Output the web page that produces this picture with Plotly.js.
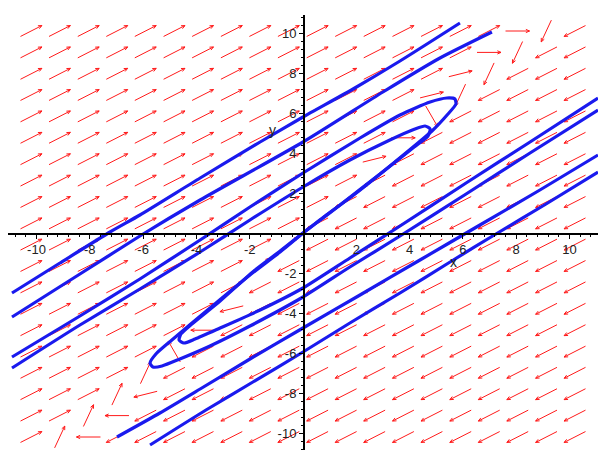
<!DOCTYPE html>
<html><head><meta charset="utf-8">
<script src="https://cdn.plot.ly/plotly-3.0.1.min.js"></script>
<style>html,body{margin:0;padding:0;background:#fff}</style>
</head><body>
<div id="chart" style="width:598px;height:450px"></div>
<script>
// ---- direction field ----
const gridX = [-10.2,-9.13,-8.05,-6.98,-5.91,-4.83,-3.76,-2.68,-1.61,-0.54,0.54,1.61,2.68,3.76,4.83,5.91,6.98,8.05,9.13,10.2];
const gridY = [10.1,9.03,7.96,6.9,5.83,4.76,3.69,2.62,1.55,0.48,-0.58,-1.65,-2.72,-3.79,-4.86,-5.93,-6.99,-8.06,-9.13,-10.2];
// one letter per arrow, top row first
const fieldRows = [
  "rrrrrrrrrrrrrrrrrhsl",
  "rrrrrrrrrrrrrrrrhsll",
  "rrrrrrrrrrrrrrraslll",
  "rrrrrrrrrrrrrrasllll",
  "rrrrrrrrrrrrrrdlllll",
  "rrrrrrrrrrrrrhllllll",
  "rrrrrrrrrrrralllllll",
  "rrrrrrrrrrrrllllllll",
  "rrrrrrrrrrrlllllllll",
  "rrrrrrrrrrllllllllll",
  "rrrrrrrrrTllllllllll",
  "rrrrrrrrTlllllllllll",
  "rrrrrrrrllllllllllll",
  "rrrrrrrAllllllllllll",
  "rrrrrrHlllllllllllll",
  "rrrrrDllllllllllllll",
  "rrrrSlllllllllllllll",
  "rrrSAlllllllllllllll",
  "rrSHllllllllllllllll",
  "rSHlllllllllllllllll"
];
// arrow direction (degrees, on screen) for each letter
const arrowDirs = {r:27, l:207, a:14, A:194, h:0, H:180, d:-60, D:120, s:-115, S:65, t:-140, T:40};

// ---- solution curves ----
const pX  = [-10.92,-9.12,-7.24,-6.12,-3.86,-1.61,0,1.88,3.64,5.89];
const pY  = [-3.0,-1.5,0.05,0.9,2.75,4.55,5.8,7.2,8.6,10.5];
const qX  = [-10.92,-8.37,-6.12,-3.86,0,3.0,5.14,7.09];
const qY  = [-4.2,-2.05,-0.15,1.65,4.55,7.05,8.75,10.05];
const h1X = [-10.92,-8.37,-6.12,-3.86,-1.99,0,2.14,3.64,4.77,5.40,5.70,5.74,5.44,4.84,3.45,1.95,0.83,0];
const h1Y = [-6.2,-4.15,-2.3,-0.35,1.3,3.0,4.75,5.9,6.55,6.75,6.7,6.45,5.95,5.1,3.55,1.95,0.85,0];
const h2X = [-10.92,-8.37,-6.12,-3.86,-1.99,0,1.76,3.26,4.20,4.58,4.77,4.69,4.17,2.89,1.39,0.45,0];
const h2Y = [-6.75,-4.6,-2.8,-0.95,0.65,2.3,3.65,4.65,5.2,5.35,5.2,4.85,4.3,2.95,1.4,0.45,0];
const h3X = [11.07,8.52,6.12,3.64,1.76,0,-1.99,-3.49,-4.62,-5.29,-5.63,-5.74,-5.52,-4.92,-3.49,-1.99,-0.86,0];
const h3Y = [6.15,4.0,1.95,-0.15,-1.7,-3.2,-4.65,-5.65,-6.3,-6.65,-6.7,-6.5,-6.05,-5.35,-3.75,-2.1,-0.95,0];
const h4X = [11.07,8.52,6.12,3.64,1.76,0,-1.61,-3.11,-4.05,-4.47,-4.65,-4.58,-4.17,-3.11,-1.80,-0.86,0];
const h4Y = [6.75,4.55,2.5,0.35,-1.25,-2.75,-3.85,-4.75,-5.3,-5.5,-5.35,-5.05,-4.55,-3.4,-1.85,-0.9,0];
const p2X = [11.07,9.12,7.24,5.52,3.64,1.76,0,-1.88,-3.64,-5.74];
const p2Y = [3.05,1.45,-0.05,-1.45,-3.0,-4.5,-5.95,-7.45,-8.85,-10.6];
const q2X = [11.07,8.89,6.64,4.39,2.14,0,-1.99,-3.86,-5.37,-6.98];
const q2Y = [3.9,2.15,0.4,-1.35,-3.1,-4.75,-6.3,-7.8,-9.0,-10.2];

const tickVals = [-10,-8,-6,-4,-2,2,4,6,8,10];
const tickText = ["-10","-8","-6","-4","-2","2","4","6","8","10"];

// ---- layout geometry ----
const W = 598, H = 450;
const mar = {l:8, r:0, t:15, b:0};
const xRange = [-11.07, 11.07];
const yRange = [-10.85, 10.9];
const pxX = (W - mar.l - mar.r) / (xRange[1] - xRange[0]);
const pxY = (H - mar.t - mar.b) / (yRange[1] - yRange[0]);

// build arrows from the grid and letters
const ax = [], ay = [];
const half = 12, headLen = 4, headAng = 24;
for (let j = 0; j < gridY.length; j++) {
  for (let i = 0; i < gridX.length; i++) {
    const phi = arrowDirs[fieldRows[j][i]] * Math.PI / 180;
    const ux = Math.cos(phi), uy = Math.sin(phi);
    const cx = gridX[i], cy = gridY[j];
    const tx = cx - half*ux/pxX, ty = cy - half*uy/pxY;
    const hx = cx + half*ux/pxX, hy = cy + half*uy/pxY;
    ax.push(tx, hx, null); ay.push(ty, hy, null);
    for (const s of [1, -1]) {
      const b = phi + Math.PI + s*headAng*Math.PI/180;
      ax.push(hx, hx + headLen*Math.cos(b)/pxX, null);
      ay.push(hy, hy + headLen*Math.sin(b)/pxY, null);
    }
  }
}

const curves = [[pX,pY],[qX,qY],[h1X,h1Y],[h2X,h2Y],[h3X,h3Y],[h4X,h4Y],[p2X,p2Y],[q2X,q2Y]];
const traces = [{x:ax, y:ay, mode:'lines', line:{color:'#ff1a1a', width:1}, hoverinfo:'skip', showlegend:false}];
for (const c of curves) traces.push({x:c[0], y:c[1], mode:'lines',
  line:{color:'#1a1aee', width:3.2, shape:'spline', smoothing:0.6}, hoverinfo:'skip', showlegend:false});

const tickFont = {family:'Liberation Sans, Arial, sans-serif', size:13, color:'#222'};
const common = {showgrid:false, zeroline:false, showline:true, linecolor:'#000', linewidth:1.6,
  ticks:'outside', ticklen:4, tickwidth:1, tickcolor:'#000', tickmode:'array',
  tickvals:tickVals, ticktext:tickText, tickfont:tickFont, anchor:'free', fixedrange:true,
  minor:{dtick:0.4, tick0:0, ticks:'outside', ticklen:2, tickwidth:1, tickcolor:'#000', showgrid:false}};

const layout = {
  width:W, height:H, margin:mar, paper_bgcolor:'#fff', plot_bgcolor:'#fff', showlegend:false,
  xaxis:Object.assign({}, common, {range:xRange, position:0.4989}),
  yaxis:Object.assign({}, common, {range:yRange, position:0.5}),
  annotations:[
    {x:5.63, y:-1.45, xref:'x', yref:'y', text:'x', showarrow:false, font:{family:'Liberation Sans, Arial', size:14, color:'#222'}},
    {x:-1.13, y:5.15, xref:'x', yref:'y', text:'y', showarrow:false, font:{family:'Liberation Sans, Arial', size:14, color:'#222'}}
  ]
};
Plotly.newPlot('chart', traces, layout, {staticPlot:true, displayModeBar:false});
</script>
</body></html>
